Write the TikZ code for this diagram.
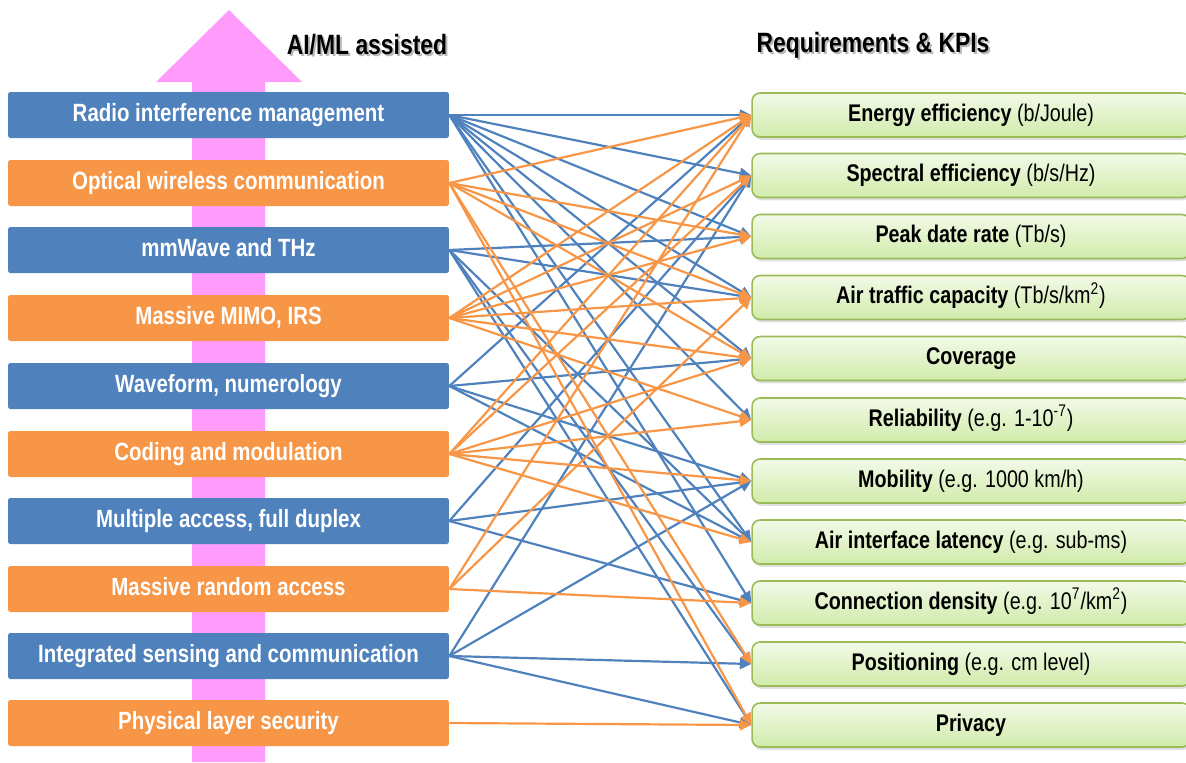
\documentclass[tikz,border=0pt]{standalone}
\usepackage{fontspec}
\setmainfont{Liberation Sans}
\newfontfamily\nar{Liberation Sans}[FakeStretch=0.82]
\usetikzlibrary{arrows.meta,shadows}
\definecolor{lblue}{RGB}{79,129,189}
\definecolor{lorange}{RGB}{247,150,70}
\definecolor{pinkarrow}{RGB}{255,155,250}
\definecolor{gborder}{RGB}{155,187,89}
\definecolor{gtop}{RGB}{243,250,232}
\definecolor{gbot}{RGB}{208,235,170}
\begin{document}
\begin{tikzpicture}[x=0.02cm,y=-0.02cm,
  tech/.style={minimum width=8.82cm, minimum height=0.92cm, inner sep=0pt, rounded corners=1pt, text=white, text height=0.905em, text depth=0.212em, font=\nar\bfseries\fontsize{14.2}{16}\selectfont},
  techB/.style={tech, fill=lblue},
  techO/.style={tech, fill=lorange},
  kpi/.style={minimum width=8.76cm, minimum height=0.88cm, inner sep=0pt, rounded corners=0.16cm, draw=gborder, line width=0.9pt, top color=gtop, bottom color=gbot, drop shadow={opacity=0.25,shadow xshift=0.8pt,shadow yshift=-1.6pt}, text height=0.905em, text depth=0.212em, font=\nar\fontsize{13.7}{16}\selectfont},
  title/.style={font=\nar\bfseries\fontsize{15.9}{18}\selectfont},
  cb/.style={draw=lblue, line width=1.25pt, -{Triangle[length=6.5pt,width=6.2pt]}},
  co/.style={draw=lorange, line width=1.25pt, -{Triangle[length=6.5pt,width=6.2pt]}}
]
\useasboundingbox (0,0) rectangle (1186,762);
% pink arrow
\fill[pinkarrow] (192,762) -- (192,82) -- (156,82) -- (229,10) -- (302,82) -- (265,82) -- (265,762) -- cycle;
% titles
\node[title, text=black!45, opacity=0.6] at (369,47) {AI/ML assisted};
\node[title] (t1) at (367,45) {AI/ML assisted};
\node[title, text=black!45, opacity=0.6] at (875,47) {Requirements \& KPIs};
\node[title] (t2) at (873,45) {Requirements \& KPIs};
% left nodes
\node[techB] (L1) at (228.5,115) {Radio interference management};
\node[techO] (L2) at (228.5,183) {Optical wireless communication};
\node[techB] (L3) at (228.5,250) {mmWave and THz};
\node[techO] (L4) at (228.5,318) {Massive MIMO, IRS};
\node[techB] (L5) at (228.5,386) {Waveform, numerology};
\node[techO] (L6) at (228.5,454) {Coding and modulation};
\node[techB] (L7) at (228.5,521) {Multiple access, full duplex};
\node[techO] (L8) at (228.5,589) {Massive random access};
\node[techB] (L9) at (228.5,656) {Integrated sensing and communication};
\node[techO] (L10) at (228.5,723) {Physical layer security};
% right nodes
\node[kpi] (R1) at (971,115) {\textbf{Energy efficiency} (b/Joule)};
\node[kpi] (R2) at (971,175.5) {\textbf{Spectral efficiency} (b/s/Hz)};
\node[kpi] (R3) at (971,236.5) {\textbf{Peak date rate} (Tb/s)};
\node[kpi] (R4) at (971,297.5) {\textbf{Air traffic capacity} (Tb/s/km\textsuperscript{2})};
\node[kpi] (R5) at (971,358.5) {\textbf{Coverage}};
\node[kpi] (R6) at (971,420) {\textbf{Reliability} (e.g. 1-10\textsuperscript{-7})};
\node[kpi] (R7) at (971,481) {\textbf{Mobility} (e.g. 1000 km/h)};
\node[kpi] (R8) at (971,542) {\textbf{Air interface latency} (e.g. sub-ms)};
\node[kpi] (R9) at (971,603) {\textbf{Connection density} (e.g. 10\textsuperscript{7}/km\textsuperscript{2})};
\node[kpi] (R10) at (971,664) {\textbf{Positioning} (e.g. cm level)};
\node[kpi] (R11) at (971,725) {\textbf{Privacy}};
% connectors
\foreach \s/\t in {1/1,1/2,1/3,1/4,1/5,1/6,1/8,1/9,
                   3/3,3/4,3/8,3/10,3/11,
                   5/1,5/5,5/7,5/8,
                   7/2,7/7,7/9,
                   9/2,9/7,9/10,9/11}
  \draw[cb] (L\s.east) -- (R\t.west);
\foreach \s/\t in {2/1,2/3,2/4,2/5,2/10,2/11,
                   4/1,4/2,4/3,4/4,4/5,4/6,
                   6/1,6/2,6/5,6/6,6/7,6/8,
                   8/1,8/4,8/9,
                   10/11}
  \draw[co] (L\s.east) -- (R\t.west);
\end{tikzpicture}
\end{document}
